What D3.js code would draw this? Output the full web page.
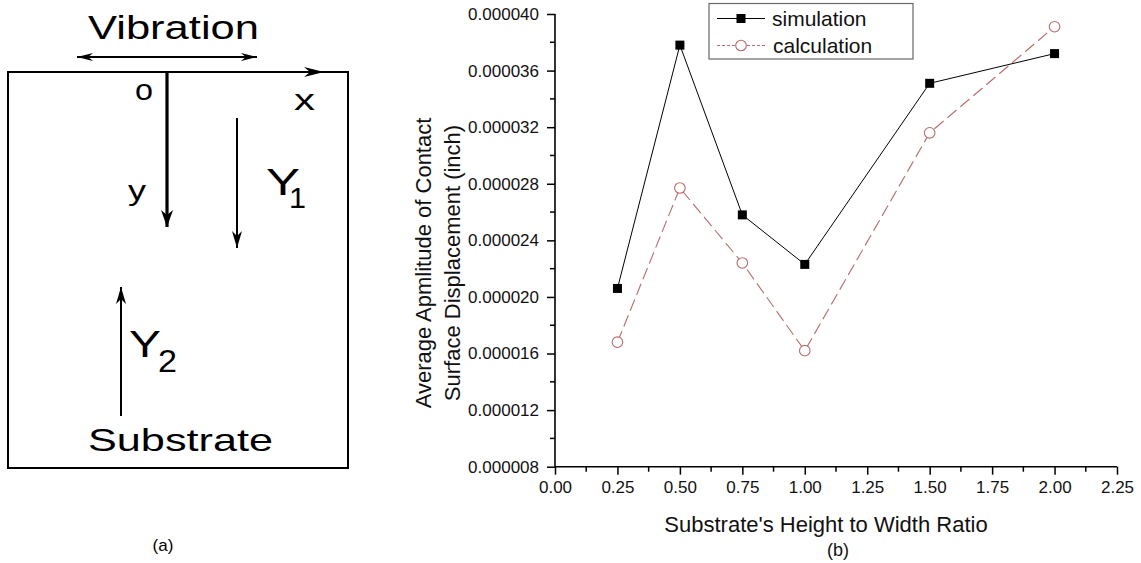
<!DOCTYPE html>
<html>
<head>
<meta charset="utf-8">
<script src="https://cdn.jsdelivr.net/npm/d3@7"></script>
<style>
  html, body { margin: 0; padding: 0; background: #fff; }
  svg { display: block; font-family: "Liberation Sans", Arial, sans-serif; }
</style>
</head>
<body>
<svg id="chart" width="1141" height="563"></svg>
<script>
// ---- data ----
const ratios = [0.25, 0.5, 0.75, 1.0, 1.5, 2.0];
const simulation = [20.6e-6, 37.8e-6, 25.8e-6, 22.3e-6, 35.1e-6, 37.2e-6];
const calculation = [16.8e-6, 27.7e-6, 22.4e-6, 16.2e-6, 31.6e-6, 39.1e-6];
const xTicks = [0, 0.25, 0.5, 0.75, 1.0, 1.25, 1.5, 1.75, 2.0, 2.25];
const yTicks = [8e-6, 12e-6, 16e-6, 20e-6, 24e-6, 28e-6, 32e-6, 36e-6, 40e-6];
const seriesNames = ["simulation", "calculation"];

const svg = d3.select("#chart");

// ================= (a) schematic =================
const g1 = svg.append("g");
g1.append("rect").attr("x", 8).attr("y", 72).attr("width", 340).attr("height", 396)
  .attr("fill", "none").attr("stroke", "#000").attr("stroke-width", 2);

function arrow(x1, y1, x2, y2, w, headLen, headHalf) {
  g1.append("line").attr("x1", x1).attr("y1", y1).attr("x2", x2).attr("y2", y2)
    .attr("stroke", "#000").attr("stroke-width", w);
  const ang = Math.atan2(y2 - y1, x2 - x1);
  const bx = x2 - headLen * Math.cos(ang), by = y2 - headLen * Math.sin(ang);
  const px = -Math.sin(ang) * headHalf, py = Math.cos(ang) * headHalf;
  const nx = x2 - headLen * 0.7 * Math.cos(ang), ny = y2 - headLen * 0.7 * Math.sin(ang);
  g1.append("path")
    .attr("d", `M${x2},${y2} L${bx + px},${by + py} L${nx},${ny} L${bx - px},${by - py} Z`)
    .attr("fill", "#000");
}
arrow(167, 72, 324, 72, 2, 20, 5);      // x axis arrow along top
arrow(167, 72, 167, 227, 3.2, 17, 6);   // y arrow
arrow(237, 118, 237, 248, 2, 17, 5);    // Y1 arrow
arrow(121, 416, 121, 287, 2, 17, 5);    // Y2 arrow
arrow(167, 57, 257, 57, 2, 16, 4);      // vibration double arrow
arrow(167, 57, 77, 57, 2, 16, 4);

function label(txt, x, y, size, len, anchor) {
  const t = g1.append("text").attr("x", x).attr("y", y).attr("font-size", size)
    .attr("fill", "#000").text(txt);
  if (len) t.attr("textLength", len).attr("lengthAdjust", "spacingAndGlyphs");
  if (anchor) t.attr("text-anchor", anchor);
  return t;
}
label("Vibration", 88, 39, 34, 171);
label("o", 135, 100, 29, 18);
label("x", 294, 110, 29, 21);
label("y", 128, 200, 28, 18);
label("Y", 266, 195, 37, 34);
label("1", 289, 208, 29, 17);
label("Y", 129, 357, 37, 32);
label("2", 158, 372, 32, 19);
label("Substrate", 88, 451, 32, 185);
label("(a)", 163, 551, 17, null, "middle");

// ================= (b) chart =================
const x = d3.scaleLinear().domain([0, 2.25]).range([555, 1117]);
const y = d3.scaleLinear().domain([8e-6, 40e-6]).range([466.7, 14]);
const fmtY = d => d3.format(".6f")(d);
const fmtX = d => d3.format(".2f")(d);

// y axis
const yAxis = d3.axisLeft(y).tickValues(yTicks).tickFormat(fmtY).tickSize(8).tickPadding(8);
const gy = svg.append("g").attr("transform", `translate(${x(0)},0)`).call(yAxis);
const yMinor = d3.range(10e-6, 40e-6, 4e-6);
gy.selectAll(".minor").data(yMinor).enter().append("line").attr("class", "minor")
  .attr("x1", 0).attr("x2", -5).attr("y1", d => y(d)).attr("y2", d => y(d))
  .attr("stroke", "#000").attr("stroke-width", 1.5);

// x axis
const xAxis = d3.axisBottom(x).tickValues(xTicks).tickFormat(fmtX).tickSize(8).tickPadding(6);
const gx = svg.append("g").attr("transform", `translate(0,${y(8e-6)})`).call(xAxis);
const xMinor = d3.range(0.125, 2.25, 0.25);
gx.selectAll(".minor").data(xMinor).enter().append("line").attr("class", "minor")
  .attr("y1", 0).attr("y2", 5).attr("x1", d => x(d)).attr("x2", d => x(d))
  .attr("stroke", "#000").attr("stroke-width", 1.5);

[gx, gy].forEach(g => {
  g.select(".domain").attr("stroke", "#000").attr("stroke-width", 1.6);
  g.selectAll(".tick line").attr("stroke", "#000").attr("stroke-width", 1.5);
  g.selectAll(".tick text").attr("font-size", 17).attr("fill", "#111")
    .attr("font-family", '"Liberation Sans", Arial, sans-serif');
});
gx.select(".domain").attr("d", `M${x(0)},0H${x(2.25)}`);
gy.select(".domain").attr("d", `M0,${y(40e-6)}V${y(8e-6)}`);

// lines
const calcColor = "#b86c6c";
const line = d3.line().x(d => x(d[0])).y(d => y(d[1]));
const simData = ratios.map((r, i) => [r, simulation[i]]);
const calcData = ratios.map((r, i) => [r, calculation[i]]);

svg.append("path").datum(calcData).attr("d", line).attr("fill", "none")
  .attr("stroke", calcColor).attr("stroke-width", 1.1).attr("stroke-dasharray", "12,5");
svg.append("path").datum(simData).attr("d", line).attr("fill", "none")
  .attr("stroke", "#000").attr("stroke-width", 1);

svg.selectAll(".sim").data(simData).enter().append("rect").attr("class", "sim")
  .attr("x", d => x(d[0]) - 4.5).attr("y", d => y(d[1]) - 4.5)
  .attr("width", 9).attr("height", 9).attr("fill", "#000");
svg.selectAll(".calc").data(calcData).enter().append("circle").attr("class", "calc")
  .attr("cx", d => x(d[0])).attr("cy", d => y(d[1])).attr("r", 5.3)
  .attr("fill", "#fff").attr("stroke", calcColor).attr("stroke-width", 1.1);

// axis titles
svg.append("text").attr("x", 826).attr("y", 532).attr("text-anchor", "middle")
  .attr("font-size", 22).attr("fill", "#111").text("Substrate's Height to Width Ratio");
svg.append("text").attr("x", 838).attr("y", 556).attr("text-anchor", "middle")
  .attr("font-size", 18).attr("fill", "#111").text("(b)");
[["Average Apmlitude of Contact", 431], ["Surface Displacement (inch)", 460]].forEach(([t, xx]) => {
  svg.append("text").attr("transform", `translate(${xx},263) rotate(-90)`)
    .attr("text-anchor", "middle").attr("font-size", 22).attr("fill", "#111").text(t);
});

// legend
const lg = svg.append("g");
lg.append("rect").attr("x", 709).attr("y", 3.5).attr("width", 204).attr("height", 55.5)
  .attr("fill", "#fff").attr("stroke", "#666").attr("stroke-width", 1.2);
const rows = [18.5, 45.5];
seriesNames.forEach((name, i) => {
  const yy = rows[i];
  lg.append("line").attr("x1", 717).attr("x2", 765).attr("y1", yy).attr("y2", yy)
    .attr("stroke", i === 0 ? "#000" : calcColor).attr("stroke-width", 1)
    .attr("stroke-dasharray", i === 0 ? null : "3,2");
  if (i === 0) {
    lg.append("rect").attr("x", 736.5).attr("y", yy - 4.5).attr("width", 9).attr("height", 9).attr("fill", "#000");
  } else {
    lg.append("circle").attr("cx", 741).attr("cy", yy).attr("r", 5.3)
      .attr("fill", "#fff").attr("stroke", calcColor).attr("stroke-width", 1.1);
  }
  lg.append("text").attr("x", i === 0 ? 772 : 773).attr("y", yy + 7).attr("font-size", 21)
    .attr("fill", "#111").text(name);
});
</script>
</body>
</html>
